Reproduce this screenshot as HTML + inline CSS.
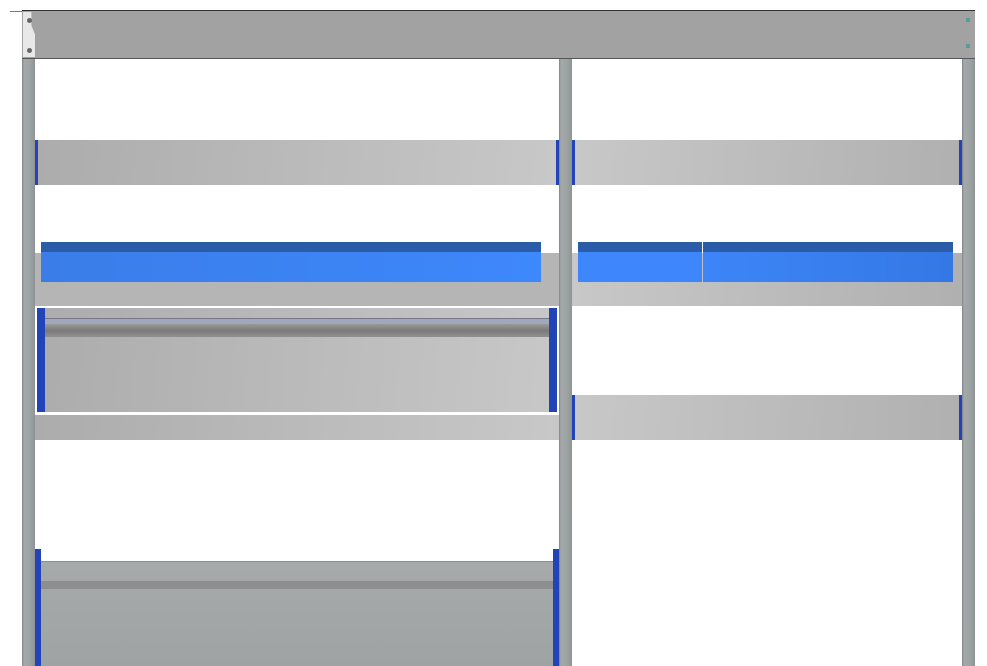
<!DOCTYPE html>
<html><head><meta charset="utf-8"><style>
body{margin:0;width:987px;height:666px;background:#fff;position:relative;overflow:hidden}
div{position:absolute;box-sizing:border-box}
.pole{background:linear-gradient(90deg,#7f8384 0,#a4a9aa 15%,#9ea3a4 60%,#8e9394 100%)}
.bar{background:linear-gradient(95deg,#acacac,#c8c8c8)}
.barr{background:linear-gradient(95deg,#c8c8c8,#b0b0b0)}
.bl{background:#2244b8}
.bh{background:linear-gradient(90deg,#3a7de8,#3d88fc);border-top:10px solid #2a5ca8}
</style></head><body>
<div style="left:22px;top:10px;width:953px;height:49px;background:#a2a2a2;border-top:1px solid #333;border-bottom:1px solid #555"></div>
<div style="left:23px;top:12px;width:12px;height:45px;background:#e8e8e8;clip-path:polygon(0 0,70% 0,70% 30%,100% 50%,100% 100%,0 100%)"></div>
<div style="left:27px;top:18px;width:5px;height:5px;border-radius:50%;background:#666"></div>
<div style="left:27px;top:48px;width:5px;height:5px;border-radius:50%;background:#666"></div>
<div style="left:966px;top:18px;width:4px;height:4px;background:#5a9a98"></div>
<div style="left:966px;top:44px;width:4px;height:4px;background:#5a9a98"></div>
<div style="left:10px;top:11px;width:12px;height:1px;background:#777"></div>

<div class="pole" style="left:22px;top:59px;width:13px;height:607px"></div>
<div class="pole" style="left:559px;top:59px;width:13px;height:607px"></div>
<div class="pole" style="left:962px;top:59px;width:13px;height:607px"></div>

<div class="bar" style="left:35px;top:140px;width:524px;height:45px"></div>
<div class="bl" style="left:35px;top:140px;width:3px;height:45px"></div>
<div class="bl" style="left:556px;top:140px;width:3px;height:45px"></div>
<div class="barr" style="left:572px;top:140px;width:390px;height:45px"></div>
<div class="bl" style="left:572px;top:140px;width:3px;height:45px"></div>
<div class="bl" style="left:959px;top:140px;width:3px;height:45px"></div>

<div style="left:35px;top:253px;width:524px;height:53px;background:#b5b5b5"></div>
<div class="barr" style="left:572px;top:253px;width:390px;height:53px"></div>
<div class="bh" style="left:41px;top:242px;width:500px;height:40px"></div>
<div class="bh" style="left:578px;top:242px;width:124px;height:40px;background:#3d86fc"></div>
<div class="bh" style="left:703px;top:242px;width:250px;height:40px;background:linear-gradient(90deg,#3d85f8,#3478e4)"></div>

<div style="left:35px;top:306px;width:524px;height:109px;background:#fff"></div>
<div class="bar" style="left:37px;top:308px;width:520px;height:104px"></div>
<div style="left:45px;top:318px;width:504px;height:6px;background:#a0a8bc;border-top:1px solid #778"></div>
<div style="left:45px;top:324px;width:504px;height:13px;background:linear-gradient(#9a9a9a,#7a7a7a 50%,#909090)"></div>
<div class="bl" style="left:37px;top:308px;width:8px;height:104px"></div>
<div class="bl" style="left:549px;top:308px;width:8px;height:104px"></div>
<div class="bar" style="left:35px;top:415px;width:524px;height:25px"></div>

<div class="barr" style="left:572px;top:395px;width:390px;height:45px"></div>
<div class="bl" style="left:572px;top:395px;width:3px;height:45px"></div>
<div class="bl" style="left:959px;top:395px;width:3px;height:45px"></div>

<div style="left:41px;top:561px;width:512px;height:105px;background:linear-gradient(#a6aaab,#9fa3a4);border-top:1px solid #8c8e8f"></div>
<div style="left:41px;top:581px;width:512px;height:8px;background:#8c8e8f"></div>
<div class="bl" style="left:35px;top:549px;width:6px;height:117px"></div>
<div class="bl" style="left:553px;top:549px;width:6px;height:117px"></div>
</body></html>
